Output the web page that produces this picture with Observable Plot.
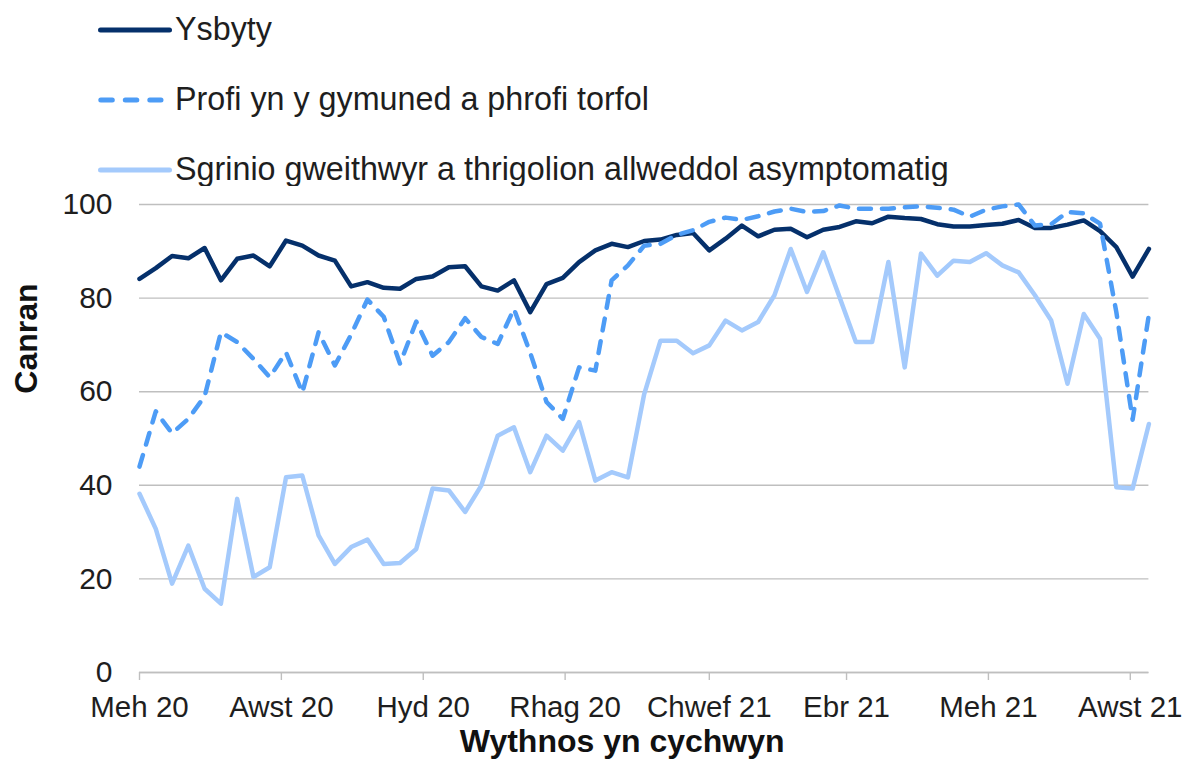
<!DOCTYPE html>
<html>
<head>
<meta charset="utf-8">
<script src="https://cdn.jsdelivr.net/npm/d3@7"></script>
<script src="https://cdn.jsdelivr.net/npm/@observablehq/plot@0.6"></script>
<style>
  html, body { margin: 0; padding: 0; background: #ffffff; }
  body { font-family: "Liberation Sans", Arial, sans-serif; width: 1183px; height: 760px; overflow: hidden; }
  #legend, #chart { display: block; }
  svg { display: block; }
</style>
</head>
<body>
<div id="legend"></div>
<div id="chart"></div>
<script>
// ---- Data ----
const seriesNames = [
  "Ysbyty",
  "Profi yn y gymuned a phrofi torfol",
  "Sgrinio gweithwyr a thrigolion allweddol asymptomatig"
];
const seriesColors = ["#05306b", "#4d9cf6", "#a4cafc"];

// weekly series, first week starting 1 June 2020
const firstWeek = "2020-06-01";

const ysbyty = [
  84.1, 86.4, 89.0, 88.5, 90.7, 83.8, 88.4, 89.1, 86.8, 92.3,
  91.2, 89.1, 88.0, 82.5, 83.4, 82.2, 82.0, 84.1, 84.6, 86.6,
  86.8, 82.5, 81.6, 83.8, 77.0, 83.0, 84.3, 87.7, 90.2, 91.6,
  90.9, 92.2, 92.5, 93.5, 93.9, 90.2, 92.7, 95.5, 93.2, 94.6,
  94.8, 93.0, 94.6, 95.2, 96.4, 96.0, 97.4, 97.1, 96.9, 95.8,
  95.3, 95.3, 95.6, 95.9, 96.7, 95.0, 95.0, 95.7, 96.6, 94.3,
  90.9, 84.6, 90.5
];

const profi = [
  44.0, 55.8, 51.1, 54.2, 59.0, 72.7, 70.6, 67.0, 63.1, 68.4,
  59.8, 72.7, 65.6, 72.2, 79.7, 76.0, 66.0, 75.0, 67.7, 70.6,
  75.7, 71.7, 70.2, 77.7, 68.3, 57.8, 54.2, 65.2, 64.5, 83.8,
  87.0, 91.2, 91.6, 93.5, 94.5, 96.3, 97.2, 96.7, 97.5, 98.5,
  99.1, 98.4, 98.6, 99.8, 99.1, 99.1, 99.1, 99.4, 99.6, 99.3,
  98.9, 97.4, 98.9, 99.6, 100.0, 95.5, 95.8, 98.4, 98.1, 95.9,
  77.0, 54.0, 76.5
];

const sgrinio = [
  38.2, 30.7, 19.0, 27.1, 17.9, 14.7, 37.1, 20.4, 22.5, 41.7,
  42.1, 29.3, 23.2, 26.8, 28.4, 23.2, 23.4, 26.4, 39.3, 38.9,
  34.3, 40.0, 50.6, 52.4, 42.8, 50.6, 47.4, 53.5, 41.0, 42.8,
  41.7, 59.5, 70.9, 70.9, 68.2, 69.9, 75.2, 73.1, 74.9, 80.6,
  90.5, 81.3, 89.8, 80.2, 70.6, 70.6, 87.7, 65.2, 89.5, 84.8,
  88.0, 87.7, 89.6, 87.0, 85.5, 80.6, 75.2, 61.7, 76.6, 71.3,
  39.6, 39.3, 53.1
];

const yTicks = [0, 20, 40, 60, 80, 100];
const xTickDates = ["2020-06-01", "2020-08-01", "2020-10-01", "2020-12-01",
                    "2021-02-01", "2021-04-01", "2021-06-01", "2021-08-01"];
const xTickLabels = ["Meh 20", "Awst 20", "Hyd 20", "Rhag 20",
                     "Chwef 21", "Ebr 21", "Meh 21", "Awst 21"];
const yTitle = "Canran";
const xTitle = "Wythnos yn cychwyn";

// ---- Derived ----
const weeks = ysbyty.map((_, i) => d3.utcDay.offset(new Date(firstWeek + "T00:00:00Z"), 7 * i));
const tickDates = xTickDates.map(s => new Date(s + "T00:00:00Z"));
const tickLabelOf = d => xTickLabels[tickDates.findIndex(t => +t === +d)];

const FONT = '"Liberation Sans", Arial, sans-serif';
const TEXT = "#1e1e1e";
const GRID = "#bfbfbf";
const DASH = "12,11";

// ---- Legend (above the chart) ----
const legendH = 186;
const legend = d3.create("svg")
  .attr("width", 1183).attr("height", legendH)
  .attr("font-family", FONT);
const legendRows = [
  {name: seriesNames[0], color: seriesColors[0], dash: null, y: 30},
  {name: seriesNames[1], color: seriesColors[1], dash: "11.5,13", y: 100},
  {name: seriesNames[2], color: seriesColors[2], dash: null, y: 170}
];
for (const r of legendRows) {
  const ln = legend.append("line")
    .attr("x1", r.dash ? 100.8 : 100.5).attr("x2", r.dash ? 161 : 169.5)
    .attr("y1", r.y).attr("y2", r.y)
    .attr("stroke", r.color).attr("stroke-width", 5)
    .attr("stroke-linecap", "round");
  if (r.dash) ln.attr("stroke-dasharray", r.dash);
  legend.append("text")
    .attr("x", 175).attr("y", r.y + 10)
    .attr("font-size", 32.3).attr("fill", TEXT)
    .text(r.name);
}
document.getElementById("legend").appendChild(legend.node());

// ---- Chart ----
const lineOpts = {strokeWidth: 4.5, strokeLinejoin: "round", strokeLinecap: "round"};

const chart = Plot.plot({
  width: 1183,
  height: 760 - legendH,
  marginTop: 204 - legendH,
  marginBottom: 760 - 672,
  marginLeft: 139,
  marginRight: 34.6,
  style: {fontFamily: FONT, background: "#ffffff", color: TEXT, overflow: "visible"},
  x: {type: "utc", domain: [weeks[0], weeks[weeks.length - 1]]},
  y: {domain: [0, 100]},
  marks: [
    Plot.gridY(yTicks, {stroke: GRID, strokeOpacity: 1, strokeWidth: 1.4}),
    Plot.axisY(yTicks, {tickSize: 0, tickPadding: 27, fontSize: 30, label: null, fill: TEXT, tickFormat: d => String(d)}),
    Plot.axisX(tickDates, {tickSize: 8, tickPadding: 16, fontSize: 29.5, label: null, stroke: GRID, strokeWidth: 1.4, fill: TEXT, tickFormat: tickLabelOf}),
    Plot.ruleY([0], {stroke: GRID, strokeWidth: 1.4}),
    Plot.line(ysbyty, {x: weeks, y: ysbyty, stroke: seriesColors[0], ...lineOpts}),
    Plot.line(profi, {x: weeks, y: profi, stroke: seriesColors[1], strokeDasharray: DASH, ...lineOpts}),
    Plot.line(sgrinio, {x: weeks, y: sgrinio, stroke: seriesColors[2], ...lineOpts}),
    Plot.text([yTitle], {text: d => d, frameAnchor: "top-left", dx: 26 - 139, dy: 338 - 204,
      rotate: -90, textAnchor: "middle", lineAnchor: "middle", fontSize: 32, fontWeight: "bold", fill: "#111"}),
    Plot.text([xTitle], {text: d => d, frameAnchor: "bottom", dx: -22, dy: 79,
      textAnchor: "middle", lineAnchor: "bottom", fontSize: 32, fontWeight: "bold", fill: "#111"})
  ]
});
document.getElementById("chart").appendChild(chart);
</script>
</body>
</html>
